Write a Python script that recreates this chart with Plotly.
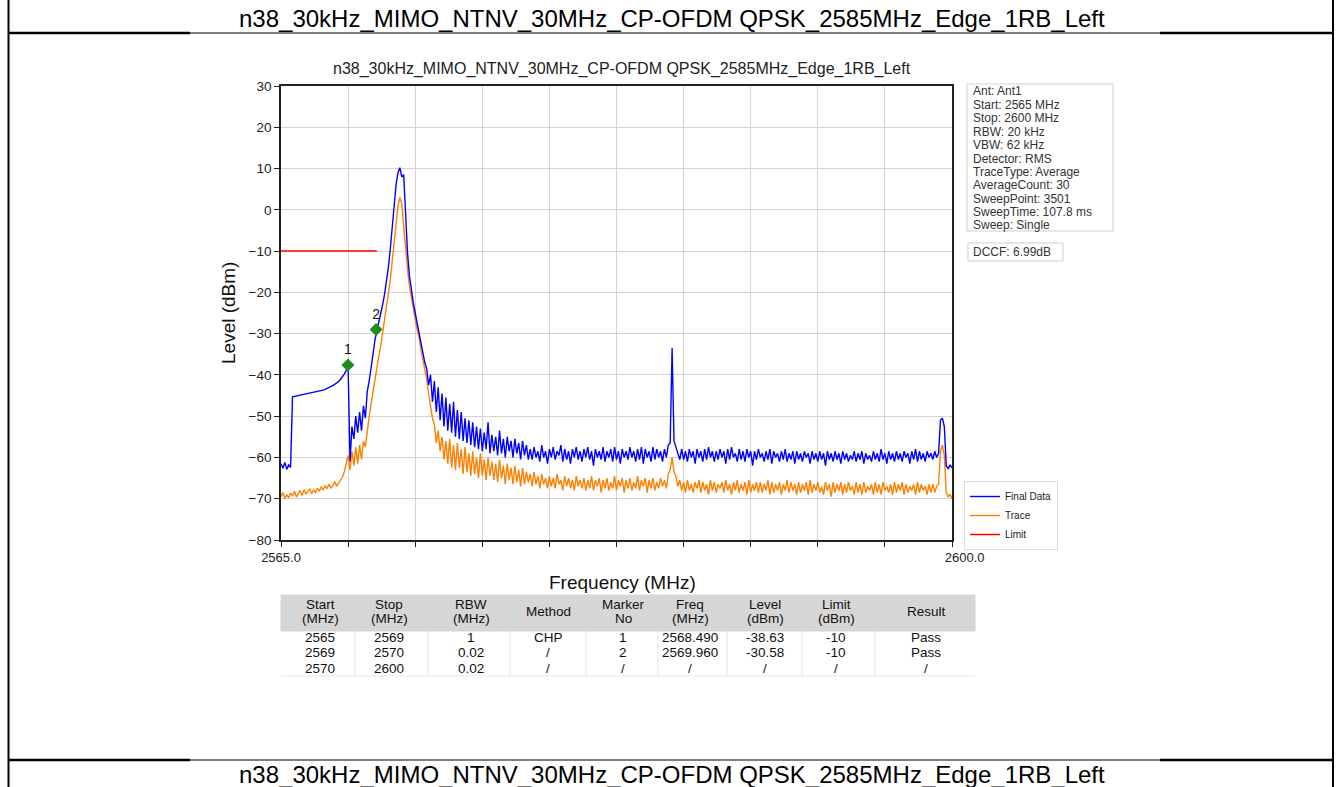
import plotly.graph_objects as go

# ---------------- data ----------------
freq_mhz = [
    2565.0, 2565.1, 2565.2, 2565.3, 2565.4, 2565.5, 2565.6, 2565.7, 2565.8, 2565.9,
    2566.0, 2566.1, 2566.2, 2566.3, 2566.4, 2566.5, 2566.6, 2566.7, 2566.8, 2566.9,
    2567.0, 2567.1, 2567.2, 2567.3, 2567.4, 2567.5, 2567.6, 2567.7, 2567.8, 2567.9,
    2568.0, 2568.1, 2568.2, 2568.3, 2568.4, 2568.5, 2568.6, 2568.7, 2568.8, 2568.9,
    2569.0, 2569.1, 2569.2, 2569.3, 2569.4, 2569.5, 2569.6, 2569.7, 2569.8, 2569.9,
    2570.0, 2570.1, 2570.2, 2570.3, 2570.4, 2570.5, 2570.6, 2570.7, 2570.8, 2570.9,
    2571.0, 2571.1, 2571.2, 2571.3, 2571.4, 2571.5, 2571.6, 2571.7, 2571.8, 2571.9,
    2572.0, 2572.1, 2572.2, 2572.3, 2572.4, 2572.5, 2572.6, 2572.7, 2572.8, 2572.9,
    2573.0, 2573.1, 2573.2, 2573.3, 2573.4, 2573.5, 2573.6, 2573.7, 2573.8, 2573.9,
    2574.0, 2574.1, 2574.2, 2574.3, 2574.4, 2574.5, 2574.6, 2574.7, 2574.8, 2574.9,
    2575.0, 2575.1, 2575.2, 2575.3, 2575.4, 2575.5, 2575.6, 2575.7, 2575.8, 2575.9,
    2576.0, 2576.1, 2576.2, 2576.3, 2576.4, 2576.5, 2576.6, 2576.7, 2576.8, 2576.9,
    2577.0, 2577.1, 2577.2, 2577.3, 2577.4, 2577.5, 2577.6, 2577.7, 2577.8, 2577.9,
    2578.0, 2578.1, 2578.2, 2578.3, 2578.4, 2578.5, 2578.6, 2578.7, 2578.8, 2578.9,
    2579.0, 2579.1, 2579.2, 2579.3, 2579.4, 2579.5, 2579.6, 2579.7, 2579.8, 2579.9,
    2580.0, 2580.1, 2580.2, 2580.3, 2580.4, 2580.5, 2580.6, 2580.7, 2580.8, 2580.9,
    2581.0, 2581.1, 2581.2, 2581.3, 2581.4, 2581.5, 2581.6, 2581.7, 2581.8, 2581.9,
    2582.0, 2582.1, 2582.2, 2582.3, 2582.4, 2582.5, 2582.6, 2582.7, 2582.8, 2582.9,
    2583.0, 2583.1, 2583.2, 2583.3, 2583.4, 2583.5, 2583.6, 2583.7, 2583.8, 2583.9,
    2584.0, 2584.1, 2584.2, 2584.3, 2584.4, 2584.5, 2584.6, 2584.7, 2584.8, 2584.9,
    2585.0, 2585.1, 2585.2, 2585.3, 2585.4, 2585.5, 2585.6, 2585.7, 2585.8, 2585.9,
    2586.0, 2586.1, 2586.2, 2586.3, 2586.4, 2586.5, 2586.6, 2586.7, 2586.8, 2586.9,
    2587.0, 2587.1, 2587.2, 2587.3, 2587.4, 2587.5, 2587.6, 2587.7, 2587.8, 2587.9,
    2588.0, 2588.1, 2588.2, 2588.3, 2588.4, 2588.5, 2588.6, 2588.7, 2588.8, 2588.9,
    2589.0, 2589.1, 2589.2, 2589.3, 2589.4, 2589.5, 2589.6, 2589.7, 2589.8, 2589.9,
    2590.0, 2590.1, 2590.2, 2590.3, 2590.4, 2590.5, 2590.6, 2590.7, 2590.8, 2590.9,
    2591.0, 2591.1, 2591.2, 2591.3, 2591.4, 2591.5, 2591.6, 2591.7, 2591.8, 2591.9,
    2592.0, 2592.1, 2592.2, 2592.3, 2592.4, 2592.5, 2592.6, 2592.7, 2592.8, 2592.9,
    2593.0, 2593.1, 2593.2, 2593.3, 2593.4, 2593.5, 2593.6, 2593.7, 2593.8, 2593.9,
    2594.0, 2594.1, 2594.2, 2594.3, 2594.4, 2594.5, 2594.6, 2594.7, 2594.8, 2594.9,
    2595.0, 2595.1, 2595.2, 2595.3, 2595.4, 2595.5, 2595.6, 2595.7, 2595.8, 2595.9,
    2596.0, 2596.1, 2596.2, 2596.3, 2596.4, 2596.5, 2596.6, 2596.7, 2596.8, 2596.9,
    2597.0, 2597.1, 2597.2, 2597.3, 2597.4, 2597.5, 2597.6, 2597.7, 2597.8, 2597.9,
    2598.0, 2598.1, 2598.2, 2598.3, 2598.4, 2598.5, 2598.6, 2598.7, 2598.8, 2598.9,
    2599.0, 2599.1, 2599.2, 2599.3, 2599.4, 2599.5, 2599.6, 2599.7, 2599.8, 2599.9,
    2600.0,
]

final_data_dbm = [
    -61.5, -62.6, -61.2, -62.9, -61.8, -62.4, -45.3, -45.2, -45.1, -45.0,
    -44.9, -44.9, -44.8, -44.7, -44.6, -44.5, -44.4, -44.3, -44.2, -44.1,
    -44.0, -43.8, -43.7, -43.5, -43.3, -43.1, -42.9, -42.6, -42.3, -42.0,
    -41.6, -41.1, -40.5, -39.8, -38.9, -37.9, -61.0, -52.5, -55.5, -50.0,
    -54.0, -49.0, -53.5, -47.5, -50.5, -44.0, -41.5, -37.5, -35.0, -31.5,
    -29.5, -27.0, -25.5, -23.0, -20.5, -17.5, -14.0, -9.5, -4.0, 1.5,
    6.0, 9.0, 10.2, 8.0, 8.5, -1.0, -10.5, -16.0, -19.5, -22.5,
    -25.0, -27.5, -30.0, -32.5, -34.5, -37.0, -38.5, -42.5, -40.0, -46.5,
    -41.5, -49.0, -43.0, -51.0, -44.5, -52.5, -45.5, -53.5, -47.0, -54.0,
    -46.5, -55.0, -48.5, -55.5, -49.0, -56.0, -50.5, -56.5, -51.0, -57.0,
    -51.5, -57.5, -52.5, -58.0, -53.0, -58.5, -54.0, -58.0, -51.5, -59.0,
    -54.5, -58.5, -55.0, -59.5, -53.5, -59.0, -55.5, -60.0, -55.0, -58.5,
    -56.0, -60.0, -55.5, -59.0, -56.5, -60.5, -56.0, -59.5, -57.0, -60.5,
    -58.0, -60.5, -57.5, -60.0, -58.5, -61.0, -57.0, -60.0, -58.5, -61.5,
    -58.0, -60.0, -57.5, -60.5, -58.5, -59.5, -57.0, -61.0, -58.0, -60.5,
    -58.5, -61.5, -58.0, -60.0, -57.5, -60.5, -58.5, -61.0, -58.0, -60.0,
    -57.5, -60.5, -58.5, -62.0, -58.0, -60.0, -58.5, -60.5, -57.5, -61.0,
    -58.5, -60.0, -58.0, -61.0, -57.5, -60.5, -58.5, -61.5, -58.0, -60.0,
    -58.5, -60.5, -57.5, -60.0, -58.5, -61.0, -58.0, -60.5, -57.5, -61.5,
    -58.0, -60.0, -58.5, -61.0, -57.5, -60.5, -58.0, -60.0, -58.5, -61.0,
    -58.0, -60.0, -57.0, -56.5, -33.5, -56.0, -57.5, -59.0, -60.5, -58.0,
    -60.5, -58.5, -61.0, -58.0, -60.0, -58.5, -61.5, -58.0, -60.0, -58.5,
    -61.0, -58.0, -60.5, -57.5, -60.0, -58.5, -61.0, -58.5, -60.5, -58.0,
    -60.0, -58.5, -61.5, -58.0, -60.5, -57.5, -60.0, -59.0, -61.0, -58.0,
    -60.5, -58.5, -61.0, -58.0, -60.0, -58.5, -62.0, -58.5, -60.5, -58.0,
    -60.0, -59.0, -61.0, -58.5, -60.5, -58.0, -61.5, -58.5, -60.0, -59.0,
    -61.0, -58.5, -60.5, -58.0, -61.0, -59.0, -60.5, -58.5, -61.5, -58.5,
    -60.5, -59.0, -61.0, -58.5, -60.0, -59.0, -61.5, -58.5, -60.5, -59.0,
    -61.0, -58.5, -60.5, -59.0, -62.0, -58.5, -60.5, -59.0, -61.0, -58.5,
    -60.5, -59.0, -61.5, -58.5, -60.5, -59.0, -61.0, -59.5, -60.5, -58.5,
    -61.0, -59.0, -60.5, -58.5, -61.5, -59.0, -60.5, -59.5, -61.0, -58.5,
    -60.5, -59.0, -61.0, -58.0, -60.5, -59.0, -61.5, -58.5, -60.5, -59.0,
    -61.0, -58.5, -60.5, -59.0, -61.0, -58.5, -60.0, -59.0, -61.5, -58.5,
    -60.5, -58.0, -61.0, -58.5, -60.5, -59.0, -61.0, -58.5, -60.0, -59.0,
    -60.5, -58.5, -60.0, -59.0, -51.0, -50.5, -52.5, -62.0, -62.8, -61.8,
    -62.5,
]

trace_dbm = [
    -69.5, -68.5, -70.0, -69.0, -69.8, -68.6, -69.4, -68.2, -69.6, -68.8,
    -68.0, -69.2, -67.8, -68.9, -68.3, -67.6, -68.8, -67.9, -68.5, -67.4,
    -68.2, -67.1, -67.9, -66.8, -67.6, -66.5, -67.4, -66.9, -65.8, -67.0,
    -66.2, -65.5, -64.8, -63.5, -61.5, -59.5, -63.0, -58.5, -62.0, -57.5,
    -61.5, -57.0, -60.5, -56.0, -57.5, -53.0, -50.0, -47.0, -44.0, -40.5,
    -38.0, -35.5, -33.0, -30.0, -27.0, -24.0, -20.5, -17.0, -12.5, -7.5,
    -2.5, 1.0, 3.0, 1.5, -4.0, -10.0, -14.5, -18.5, -21.5, -24.0,
    -26.5, -29.0, -31.0, -34.0, -36.5, -39.0, -41.0, -44.5, -47.5, -50.5,
    -52.0, -56.5, -53.5, -58.5, -55.0, -60.5, -56.0, -61.5, -55.5, -62.5,
    -57.0, -63.0, -56.5, -62.5, -58.0, -64.0, -57.5, -63.5, -59.0, -64.5,
    -58.5, -64.0, -60.0, -65.0, -59.0, -64.5, -60.5, -65.5, -60.0, -64.5,
    -61.0, -65.5, -61.5, -66.0, -60.5, -65.0, -62.0, -66.5, -61.5, -65.5,
    -62.5, -66.5, -62.0, -66.0, -63.0, -67.0, -62.5, -66.5, -63.5, -66.0,
    -64.0, -67.0, -63.5, -66.5, -64.5, -67.5, -64.0, -66.5, -65.0, -67.5,
    -64.5, -67.0, -65.0, -67.5, -64.0, -66.5, -65.5, -68.0, -64.5, -67.0,
    -65.0, -67.5, -65.5, -68.0, -64.5, -67.0, -65.5, -67.5, -65.0, -68.0,
    -65.5, -67.5, -64.5, -68.0, -65.5, -67.0, -65.0, -68.5, -65.5, -67.5,
    -65.0, -68.0, -66.0, -67.5, -64.5, -68.0, -65.5, -67.0, -65.0, -68.5,
    -65.5, -67.5, -65.0, -68.0, -66.0, -67.5, -64.5, -68.0, -65.5, -67.0,
    -65.0, -68.5, -65.5, -67.5, -65.0, -68.0, -66.0, -67.5, -65.0, -67.0,
    -65.5, -67.5, -64.0, -63.0, -60.0, -63.5, -64.5, -67.0, -65.5, -68.0,
    -66.0, -68.5, -65.5, -68.0, -66.5, -68.5, -66.0, -67.5, -65.5, -68.5,
    -66.0, -68.0, -66.5, -69.0, -65.5, -68.0, -66.0, -68.5, -66.5, -67.5,
    -66.0, -68.5, -65.5, -68.0, -66.5, -69.0, -66.0, -68.0, -65.5, -68.5,
    -66.5, -68.0, -66.0, -69.0, -65.5, -68.5, -66.5, -68.0, -66.0, -68.5,
    -66.0, -68.5, -66.5, -68.0, -65.5, -69.0, -66.0, -68.5, -66.5, -68.0,
    -66.0, -69.0, -66.5, -68.0, -65.5, -68.5, -66.0, -68.0, -66.5, -69.0,
    -66.0, -68.5, -66.5, -68.0, -66.0, -69.0, -65.5, -68.5, -66.5, -68.0,
    -66.0, -68.5, -67.0, -69.0, -66.0, -68.0, -66.5, -69.5, -66.0, -68.5,
    -66.5, -68.0, -66.0, -69.0, -66.5, -68.5, -66.0, -68.0, -67.0, -69.0,
    -66.0, -68.5, -66.5, -69.0, -66.0, -68.5, -67.0, -68.0, -66.5, -69.0,
    -66.0, -68.5, -66.5, -69.0, -66.0, -68.0, -67.0, -68.5, -66.5, -69.0,
    -66.0, -68.5, -66.5, -68.0, -66.0, -69.0, -66.5, -68.5, -67.0, -68.0,
    -66.5, -69.0, -66.0, -68.5, -66.5, -68.0, -67.0, -69.0, -66.5, -68.5,
    -66.5, -68.5, -67.0, -66.5, -58.5, -57.0, -59.5, -68.5, -69.5, -69.0,
    -70.0,
]

limit_freq_mhz = [2565.0, 2570.0]
limit_dbm = [-10.0, -10.0]

marker_no = ["1", "2"]
marker_freq_mhz = [2568.49, 2569.96]
marker_plot_dbm = [-37.6, -29.0]

x_tick_vals = [2565.0, 2568.5, 2572.0, 2575.5, 2579.0, 2582.5, 2586.0, 2589.5, 2593.0, 2596.5, 2600.0]
x_tick_text = ["2565.0", "", "", "", "", "", "", "", "", "", "\u00a0\u00a0\u00a0\u00a0\u00a0\u00a0\u00a02600.0"]
y_tick_vals = [30, 20, 10, 0, -10, -20, -30, -40, -50, -60, -70, -80]

info_lines = [
    "Ant: Ant1", "Start: 2565 MHz", "Stop: 2600 MHz", "RBW: 20 kHz", "VBW: 62 kHz",
    "Detector: RMS", "TraceType: Average", "AverageCount: 30", "SweepPoint: 3501",
    "SweepTime: 107.8 ms", "Sweep: Single",
]
dccf_text = "DCCF: 6.99dB"

table_header_1 = ["Start", "Stop", "RBW", "Method", "Marker", "Freq", "Level", "Limit", "Result"]
table_header_2 = ["(MHz)", "(MHz)", "(MHz)", "", "No", "(MHz)", "(dBm)", "(dBm)", ""]
table_rows = [
    ["2565", "2569", "1", "CHP", "1", "2568.490", "-38.63", "-10", "Pass"],
    ["2569", "2570", "0.02", "/", "2", "2569.960", "-30.58", "-10", "Pass"],
    ["2570", "2600", "0.02", "/", "/", "/", "/", "/", "/"],
]

title_text = "n38_30kHz_MIMO_NTNV_30MHz_CP-OFDM QPSK_2585MHz_Edge_1RB_Left"

# ---------------- layout helpers ----------------
W, H = 1340, 787
def px(x):
    return x / W
def py(y):
    return 1 - y / H

FONT = "Liberation Sans, Arial, sans-serif"

assert len(freq_mhz) == len(final_data_dbm) == len(trace_dbm)

fig = go.Figure()
fig.add_trace(go.Scatter(x=freq_mhz, y=trace_dbm, mode="lines", name="Trace",
                         line=dict(color="#ff8000", width=1.4), legendrank=2))
fig.add_trace(go.Scatter(x=freq_mhz, y=final_data_dbm, mode="lines", name="Final Data",
                         line=dict(color="#0000ff", width=1.4), legendrank=1))
fig.add_trace(go.Scatter(x=limit_freq_mhz, y=limit_dbm, mode="lines", name="Limit",
                         line=dict(color="#ff0000", width=1.5), legendrank=3))
fig.add_trace(go.Scatter(x=marker_freq_mhz, y=marker_plot_dbm, mode="markers+text",
                         text=marker_no, textposition="top center",
                         textfont=dict(family=FONT, size=14, color="#111"),
                         marker=dict(symbol="diamond", size=10, color="#1e8c1e"),
                         showlegend=False, hoverinfo="skip"))

fig.update_layout(
    width=W, height=H, autosize=False,
    margin=dict(l=0, r=0, t=0, b=0, pad=0, autoexpand=False),
    paper_bgcolor="white", plot_bgcolor="white",
    font=dict(family=FONT, color="#222"),
    showlegend=True,
    legend=dict(x=px(964), y=py(481), xanchor="left", yanchor="top",
                bgcolor="white", bordercolor="#dddddd", borderwidth=1,
                font=dict(family=FONT, size=10, color="#222"),
                traceorder="normal", itemwidth=30, tracegroupgap=0),
    xaxis=dict(domain=[px(281), px(952)], range=[2565, 2600], automargin=False,
               tickvals=x_tick_vals, ticktext=x_tick_text,
               ticks="outside", ticklen=5, tickwidth=1.2, tickcolor="#222",
               tickfont=dict(family=FONT, size=13, color="#222"),
               showgrid=True, gridcolor="#d4d4d4", gridwidth=1,
               showline=True, linecolor="#222", linewidth=1.6, mirror=True,
               zeroline=False),
    yaxis=dict(domain=[py(540), py(86)], range=[-80, 30], automargin=False,
               tickvals=y_tick_vals,
               ticks="outside", ticklen=5, tickwidth=1.2, tickcolor="#222",
               tickfont=dict(family=FONT, size=13.5, color="#222"),
               showgrid=True, gridcolor="#d4d4d4", gridwidth=1,
               showline=True, linecolor="#222", linewidth=1.6, mirror=True,
               zeroline=False),
)

annos = []
def text(x, y, s, size, color="#222", xanchor="center", angle=0):
    if not s:
        return
    annos.append(dict(xref="paper", yref="paper", x=px(x), y=py(y), text=s,
                      showarrow=False, xanchor=xanchor, yanchor="middle",
                      textangle=angle, font=dict(family=FONT, size=size, color=color)))

# page header/footer text
text(672, 19, title_text, 24, color="#000")
text(672, 774, title_text, 24, color="#000")
# chart title
text(622, 69, title_text, 16)
# axis titles
text(228, 313, "Level (dBm)", 19, color="#111", angle=-90)
text(622, 582, "Frequency (MHz)", 19, color="#111")
# info box lines
for k, ln in enumerate(info_lines):
    text(971, 91.5 + 13.4 * k, ln, 12, color="#333", xanchor="left")
text(971, 252, dccf_text, 12, color="#333", xanchor="left")
# table
col_x = [320, 389, 471, 548, 623, 690, 765, 836, 926]
for cx, h1, h2 in zip(col_x, table_header_1, table_header_2):
    if h2:
        text(cx, 604, h1, 13.5, color="#111")
        text(cx, 618.5, h2, 13.5, color="#111")
    else:
        text(cx, 611, h1, 13.5, color="#111")
for r, row in enumerate(table_rows):
    for cx, v in zip(col_x, row):
        text(cx, 637 + 15.5 * r, v, 13.5, color="#111")
fig.update_layout(annotations=annos)

shapes = []
def line(x0, y0, x1, y1, w=1, c="#000"):
    shapes.append(dict(type="line", xref="paper", yref="paper",
                       x0=px(x0), y0=py(y0), x1=px(x1), y1=py(y1),
                       line=dict(color=c, width=w)))
def rect(x0, y0, x1, y1, fill=None, border="#000", w=1):
    shapes.append(dict(type="rect", xref="paper", yref="paper",
                       x0=px(x0), y0=py(y0), x1=px(x1), y1=py(y1),
                       fillcolor=fill if fill else "rgba(0,0,0,0)",
                       line=dict(color=border, width=w), layer="below"))
# page frame
line(8.5, 0, 8.5, 787, 2)
line(1333, 0, 1333, 787, 2)
line(8, 33, 190, 33, 2.5)
line(190, 33, 1160, 33, 1)
line(1160, 33, 1333, 33, 2.5)
line(8, 760, 190, 760, 2.5)
line(190, 760, 1160, 760, 1)
line(1160, 760, 1333, 760, 2.5)
# info boxes
rect(967, 84, 1113, 231, border="#cfcfcf")
rect(968, 243, 1063, 261, border="#cfcfcf")
# table
rect(281, 595, 975, 631, fill="#d6d6d6", border="#d6d6d6")
for cx0 in [355, 428, 510, 586, 658, 727, 802, 875]:
    line(cx0, 631, cx0, 676, 1, "#e4e4e4")
line(281, 676, 975, 676, 1, "#e8e8e8")
fig.update_layout(shapes=shapes)

fig.write_html("out.html", config={"displayModeBar": False},
               post_script="document.body.style.margin='0';")
